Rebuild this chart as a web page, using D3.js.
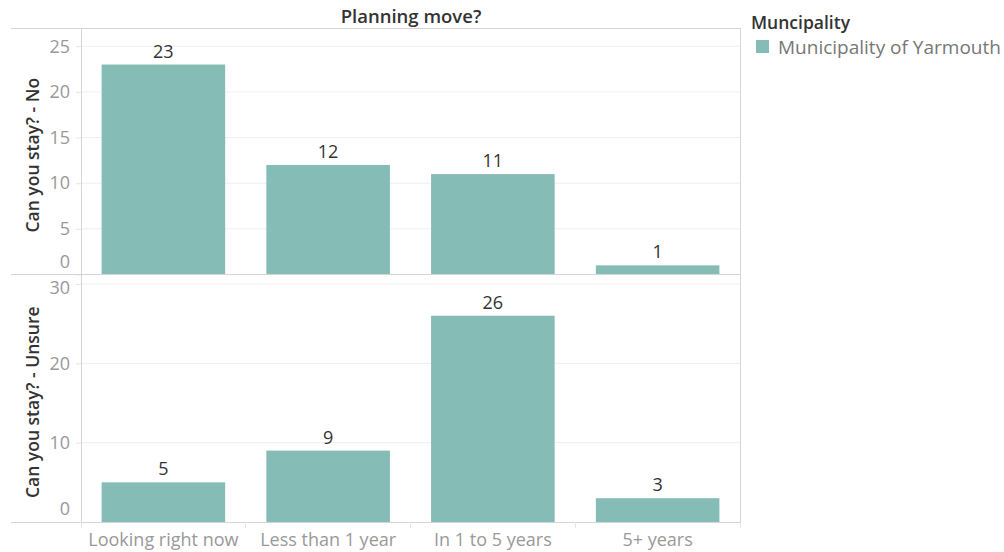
<!DOCTYPE html>
<html><head><meta charset="utf-8">
<script src="https://cdn.jsdelivr.net/npm/d3@7"></script>
<style>body{margin:0;background:#fff;font-family:"Open Sans","Noto Sans",sans-serif;}</style>
</head><body><svg id="c" width="1004" height="552"></svg>
<script>
const categories = ["Looking right now","Less than 1 year","In 1 to 5 years","5+ years"];
const rowLabels = ["Can you stay? - No","Can you stay? - Unsure"];
const valuesNo = [23,12,11,1];
const valuesUnsure = [5,9,26,3];
const ticksNo = [0,5,10,15,20,25];
const ticksUnsure = [0,10,20,30];
const legendTitle = "Muncipality";
const legendItems = ["Municipality of Yarmouth"];
const chartTitle = "Planning move?";

const svg = d3.select("#c");
const color = "#86bcb6";
const font = "'Open Sans','Noto Sans',sans-serif";
const L = 81, R = 740, outerL = 11;
const panes = [
  {label: rowLabels[0], values: valuesNo, ticks: ticksNo, top: 28, bottom: 274.5, max: 27},
  {label: rowLabels[1], values: valuesUnsure, ticks: ticksUnsure, top: 274.5, bottom: 522, max: 31.2}
];
const x = d3.scaleBand().domain(categories).range([L, R]).paddingInner(0.25).paddingOuter(0.125);

svg.append("text").attr("x", (L+R)/2 + 0.5).attr("y", 23).attr("text-anchor","middle")
  .attr("font-size",18.5).attr("font-weight",600).attr("fill","#333").text(chartTitle);

panes.forEach((p,i) => {
  const y = d3.scaleLinear().domain([0, p.max]).range([p.bottom, p.top]);
  const g = svg.append("g");
  g.selectAll("line.grid").data(p.ticks.filter(t=>t>0)).join("line")
    .attr("x1", L).attr("x2", R).attr("y1", d=>y(d)).attr("y2", d=>y(d))
    .attr("stroke","#efefef").attr("stroke-width",1);
  g.selectAll("rect").data(p.values).join("rect")
    .attr("x",(d,j)=>x(categories[j])).attr("width",x.bandwidth())
    .attr("y",d=>y(d)).attr("height",d=>p.bottom - y(d)).attr("fill",color);
  g.selectAll("text.val").data(p.values).join("text")
    .attr("x",(d,j)=>x(categories[j])+x.bandwidth()/2).attr("y",d=>y(d)-7)
    .attr("text-anchor","middle").attr("font-size",18).attr("fill","#333").text(d=>d);
  const ax = d3.axisLeft(y).tickValues(p.ticks).tickSize(5).tickPadding(6);
  const ag = g.append("g").attr("transform",`translate(${L},0)`).call(ax);
  ag.select(".domain").remove();
  ag.selectAll("line").attr("stroke","#e6e6e6");
  ag.selectAll("text").attr("font-size",18).attr("fill","#999").attr("font-family",font)
    .attr("dy", d => d===0 ? "-0.4em" : (d===p.ticks[p.ticks.length-1] && i===1 ? "0.55em" : "0.32em"));
  svg.append("text").attr("transform",`translate(39,${(p.top+p.bottom)/2 + 4}) rotate(-90)`)
    .attr("text-anchor","middle").attr("font-size",17.5).attr("font-weight",600).attr("fill","#333").text(p.label);
});

const fr = svg.append("g").attr("stroke","#d4d4d4").attr("stroke-width",1).attr("shape-rendering","crispEdges");
[28, 274.5, 522].forEach(yy => fr.append("line").attr("x1",outerL).attr("x2",R).attr("y1",yy).attr("y2",yy));
fr.append("line").attr("x1",L).attr("x2",L).attr("y1",28).attr("y2",522);
fr.append("line").attr("x1",R).attr("x2",R).attr("y1",28).attr("y2",522);

const xa = svg.append("g").attr("transform","translate(0,522)").call(d3.axisBottom(x).tickSize(0).tickPadding(11));
xa.select(".domain").remove();
xa.selectAll("text").attr("font-size",18).attr("fill","#999").attr("font-family",font);
const seps = categories.map(c=>x(c)-x.step()*x.paddingInner()/2).concat([R]);
svg.selectAll("line.sep").data(seps).join("line").attr("x1",d=>d).attr("x2",d=>d)
  .attr("y1",522).attr("y2",528).attr("stroke","#e6e6e6").attr("shape-rendering","crispEdges");

svg.append("text").attr("x",751).attr("y",29).attr("font-size",17.5).attr("font-weight",600).attr("fill","#333").text(legendTitle);
const lg = svg.selectAll("g.leg").data(legendItems).join("g");
lg.append("rect").attr("x",756).attr("y",(d,k)=>40+k*22).attr("width",13).attr("height",13).attr("fill",color);
lg.append("text").attr("x",778).attr("y",(d,k)=>54+k*22).attr("font-size",19).attr("fill","#777").text(d=>d);
</script></body></html>
